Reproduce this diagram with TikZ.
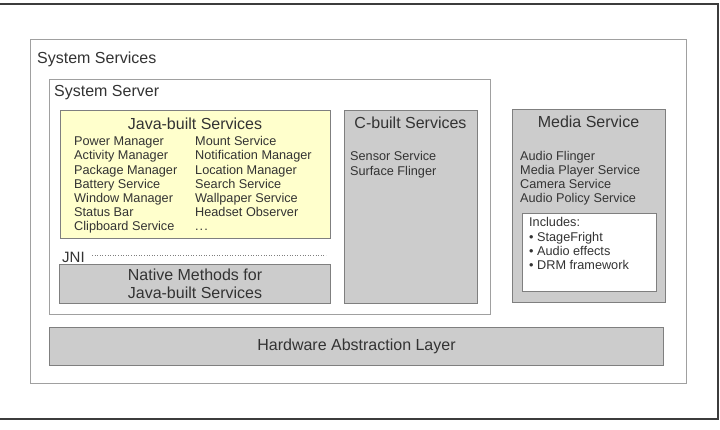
\documentclass[tikz,border=0pt]{standalone}
\usepackage{fontspec}
\setmainfont{Liberation Sans}
\definecolor{ink}{HTML}{333333}
\definecolor{frameline}{HTML}{3C3C3C}
\definecolor{paleline}{HTML}{A0A0A0}
\definecolor{boxline}{HTML}{7F7F7F}
\definecolor{boxfill}{HTML}{CCCCCC}
\definecolor{javafill}{HTML}{FFFFCC}
\tikzset{
  box/.style={draw=boxline,fill=boxfill,line width=1pt,inner sep=0pt,anchor=north west,
    text=ink,align=center,font=\fontsize{16}{18}\selectfont},
  panel/.style={box,draw=paleline,fill=white},
  title/.style={font=\fontsize{16}{18}\selectfont,text=ink,inner sep=0pt},
  item/.style={font=\fontsize{12.7}{14.2}\selectfont,text=ink,inner sep=0pt,anchor=base west}
}
\begin{document}
\begin{tikzpicture}[x=1pt,y=-1pt]
      \useasboundingbox (0,0) rectangle (720,430);
      \draw[frameline,line width=1.3pt] (0,4) -- (718,4) -- (718,419) -- (0,419);

      % nested boxes
      \node[panel,minimum width=656pt,minimum height=344pt] (services) at (30,39) {};
      \node[panel,minimum width=441pt,minimum height=235pt] (server) at (49,79) {};
      \node[box,fill=javafill,minimum width=270pt,minimum height=128pt] (java) at (60,110) {};
      \node[box,minimum width=271pt,minimum height=39pt] (native) at (59,264)
        {Native Methods for\\Java-built Services};
      \node[box,minimum width=133pt,minimum height=193pt] (cbuilt) at (344,110) {};
      \node[box,minimum width=153pt,minimum height=193pt] (media) at (512,109) {};
      \node[box,fill=white,minimum width=134pt,minimum height=78pt] (includes) at (522,213) {};
      \node[box,minimum width=614pt,minimum height=38pt] (hal) at (49,327)
        {Hardware Abstraction Layer};

      % titles
      \node[title,anchor=base west] (servicestitle) at (37,64) {System Services};
      \node[title,anchor=base west] (servertitle) at (54,96.7) {System Server};
      \node[title,anchor=base] (javatitle) at (195,130) {Java-built Services};
      \node[title,anchor=base] (cbuilttitle) at (410.5,128.3) {C-built Services};
      \node[title,anchor=base] (mediatitle) at (588.5,127.3) {Media Service};

      % JNI divider
      \node[title,font=\fontsize{15}{18}\selectfont,anchor=base west] (jni) at (62,262.7) {JNI};
      \coordinate (jnistart) at (92,255);
      \coordinate (jniend) at (326,255);
      \draw[boxline,dotted,line width=0.6pt] (jnistart) -- (jniend);

      % lists
      \foreach \t [count=\i] in {Power Manager,Activity Manager,Package Manager,
          Battery Service,Window Manager,Status Bar,Clipboard Service}
        \node[item] (javaa\i) at (74,{145.7+14.2*(\i-1)}) {\t};
      \foreach \t [count=\i] in {Mount Service,Notification Manager,Location Manager,
          Search Service,Wallpaper Service,Headset Observer}
        \node[item] (javab\i) at (195,{145.7+14.2*(\i-1)}) {\t};
      \node[item] (javab7) at (195,230.9) {.\kern1pt.\kern1pt.};
      \foreach \t [count=\i] in {Sensor Service,Surface Flinger}
        \node[item] (cbuilt\i) at (350,{161+14.2*(\i-1)}) {\t};
      \foreach \t [count=\i] in {Audio Flinger,Media Player Service,Camera Service,
          Audio Policy Service}
        \node[item] (media\i) at (520,{160.3+14.2*(\i-1)}) {\t};
      \foreach \t [count=\i] in {Includes:,• StageFright,• Audio effects,• DRM framework}
        \node[item] (includes\i) at (529,{227+14.2*(\i-1)}) {\t};
    \end{tikzpicture}
\end{document}
